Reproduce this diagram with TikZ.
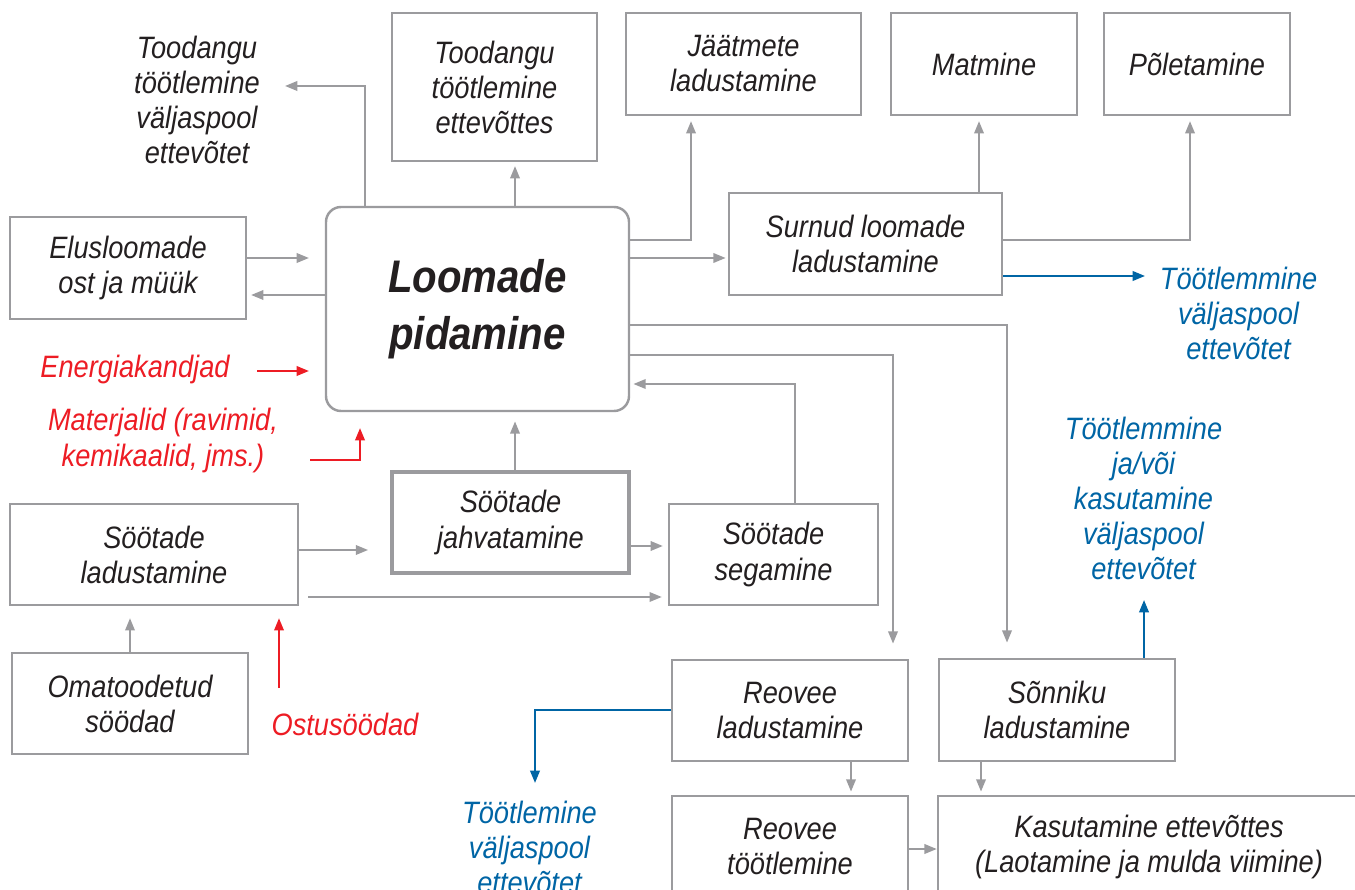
\documentclass[tikz,border=0pt]{standalone}
\usepackage{fontspec}
\setmainfont{Liberation Sans}[FakeStretch=0.88]
\usetikzlibrary{arrows.meta}
\definecolor{linegray}{RGB}{155,155,158}
\definecolor{ink}{RGB}{35,31,32}
\definecolor{flowred}{RGB}{237,28,36}
\definecolor{flowblue}{RGB}{0,101,165}

\begin{document}
\begin{tikzpicture}[x=1cm,y=-1cm,
  every node/.style={font=\fontsize{8.8}{9.96}\selectfont\itshape, text=ink, align=center, inner sep=0pt},
  box/.style={draw=linegray, line width=0.7pt, rectangle},
  flow/.style={draw=linegray, line width=0.57pt, -{Triangle[length=3.5pt,width=2.7pt]}},
  redflow/.style={draw=flowred, line width=0.6pt, -{Triangle[length=3.5pt,width=2.7pt]}},
  blueflow/.style={draw=flowblue, line width=0.6pt, -{Triangle[length=3.5pt,width=2.7pt]}},
  redtext/.style={text=flowred},
  bluetext/.style={text=flowblue}]
\clip (0,0) rectangle (13.55,8.90);

\node[box, rounded corners=0.15cm, minimum width=3.03cm, minimum height=2.04cm,
  font=\fontsize{13}{16.2}\selectfont\bfseries\itshape] (main) at (4.775,3.09) {Loomade\\pidamine};

\node (tootV) at (1.97,1.00) {Toodangu\\töötlemine\\väljaspool\\ettevõtet};
\node[box, minimum width=2.05cm, minimum height=1.48cm] (tootE) at (4.945,0.87) {Toodangu\\töötlemine\\ettevõttes};
\node[box, minimum width=2.35cm, minimum height=1.02cm] (jaat) at (7.435,0.64) {Jäätmete\\ladustamine};
\node[box, minimum width=1.86cm, minimum height=1.02cm] (mat) at (9.84,0.64) {Matmine};
\node[box, minimum width=1.86cm, minimum height=1.02cm] (pol) at (11.97,0.64) {Põletamine};
\node[box, minimum width=2.73cm, minimum height=1.02cm] (surn) at (8.655,2.44) {Surnud loomade\\ladustamine};
\node[bluetext] (blue1) at (12.385,3.13) {Töötlemmine\\väljaspool\\ettevõtet};

\node[box, minimum width=2.36cm, minimum height=1.02cm] (elus) at (1.28,2.68) {Elusloomade\\ost ja müük};
\node[redtext] (energ) at (1.35,3.70) {Energiakandjad};
\node[redtext] (mater) at (1.63,4.405) {Materjalid (ravimid,\\kemikaalid, jms.)};

\node[box, minimum width=2.88cm, minimum height=1.01cm] (sladu) at (1.54,5.545) {Söötade\\ladustamine};
\node[box, line width=1pt, minimum width=2.37cm, minimum height=1.01cm] (jahv) at (5.105,5.225) {Söötade\\jahvatamine};
\node[box, minimum width=2.09cm, minimum height=1.01cm] (seg) at (7.735,5.545) {Söötade\\segamine};
\node[box, minimum width=2.36cm, minimum height=1.01cm] (oma) at (1.30,7.035) {Omatoodetud\\söödad};
\node[redtext] (ostus) at (3.45,7.24) {Ostusöödad};

\node[bluetext] (blue2) at (11.435,4.98) {Töötlemmine\\ja/või\\kasutamine\\väljaspool\\ettevõtet};
\node[box, minimum width=2.36cm, minimum height=1.01cm] (rladu) at (7.90,7.105) {Reovee\\ladustamine};
\node[box, minimum width=2.36cm, minimum height=1.02cm] (sonn) at (10.57,7.10) {Sõnniku\\ladustamine};
\node[bluetext] (blue3) at (5.295,8.47) {Töötlemine\\väljaspool\\ettevõtet};
\node[box, minimum width=2.36cm, minimum height=1.01cm] (rtoot) at (7.90,8.465) {Reovee\\töötlemine};
\node[box, minimum width=4.22cm, minimum height=1.01cm] (kasut) at (11.49,8.465) {Kasutamine ettevõttes\\(Laotamine ja mulda viimine)};

\coordinate (tvIn) at (2.85,0.86);
\coordinate (bl1In) at (11.45,2.76);
\coordinate (enOut) at (2.57,3.71);
\coordinate (maOut) at (3.10,4.60);
\coordinate (osOut) at (2.79,6.88);
\coordinate (bl2In) at (11.44,6.00);
\coordinate (bl3In) at (5.35,7.83);

\draw[flow] (main.north -| 3.65,0) |- (tvIn);
\draw[flow, shorten >=1.1pt] (main.north -| 5.15,0) -- (tootE.south -| 5.15,0);
\draw[flow, shorten >=1.4pt] (main.east |- 0,2.40) -| (jaat.south -| 6.91,0);
\draw[flow, shorten >=0.6pt] (main.east |- 0,2.58) -- (surn.west |- 0,2.58);
\draw[flow, shorten >=1.4pt] (surn.north -| 9.79,0) -- (mat.south -| 9.79,0);
\draw[flow, shorten >=1.4pt] (surn.east |- 0,2.40) -| (pol.south -| 11.90,0);
\draw[blueflow] (surn.east |- 0,2.76) -- (bl1In);

\draw[flow, shorten >=4.5pt] (elus.east |- 0,2.58) -- (main.west |- 0,2.58);
\draw[flow, shorten >=1.1pt] (main.west |- 0,2.95) -- (elus.east |- 0,2.95);
\draw[redflow, shorten >=4.5pt] (enOut) -- (main.west |- enOut);
\draw[redflow, shorten >=4.5pt] (maOut) -| (main.south -| 3.60,0);

\draw[flow, shorten >=2.6pt] (jahv.north -| 5.15,0) -- (main.south -| 5.15,0);
\draw[flow, shorten >=0.9pt] (seg.north -| 7.95,0) |- (main.east |- 0,3.84);
\draw[flow, shorten >=6.3pt] (sladu.east |- 0,5.50) -- (jahv.west |- 0,5.50);
\draw[flow, shorten >=1.7pt, shorten <=2.6pt] (sladu.east |- 0,5.97) -- (seg.west |- 0,5.97);
\draw[flow, shorten >=1.4pt] (jahv.east |- 0,5.46) -- (seg.west |- 0,5.46);
\draw[flow, shorten >=3.4pt] (oma.north -| 1.30,0) -- (sladu.south -| 1.30,0);
\draw[redflow, shorten >=3.4pt] (osOut) -- (sladu.south -| osOut);

\draw[flow, shorten >=4.3pt] (main.east |- 0,3.25) -| (sonn.north -| 10.07,0);
\draw[flow, shorten >=4.3pt] (main.east |- 0,3.55) -| (rladu.north -| 8.93,0);
\draw[blueflow] (rladu.west |- 0,7.10) -| (bl3In);
\draw[flow, shorten >=0.9pt] (rladu.south -| 8.51,0) -- (rtoot.north -| 8.51,0);
\draw[flow] (rtoot.east |- 0,8.49) -- (kasut.west |- 0,8.49);
\draw[flow, shorten >=0.9pt] (sonn.south -| 9.81,0) -- (kasut.north -| 9.81,0);
\draw[blueflow] (sonn.north -| bl2In) -- (bl2In);
\end{tikzpicture}
\end{document}
